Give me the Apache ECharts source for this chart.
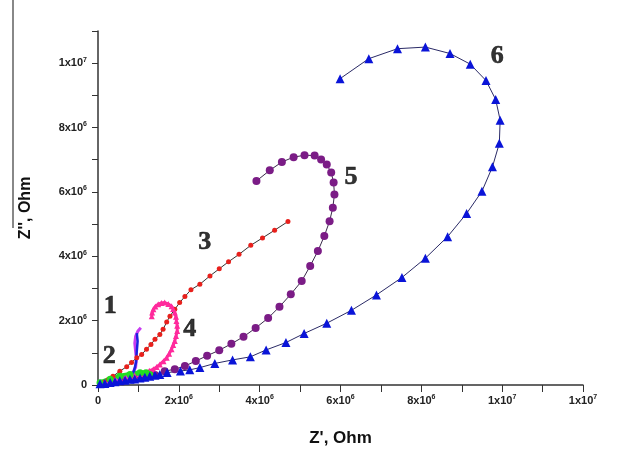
<!DOCTYPE html>
<html>
<head>
<meta charset="utf-8">
<script src="https://cdn.jsdelivr.net/npm/echarts@6/dist/echarts.min.js"></script>
<style>
  html, body { margin: 0; padding: 0; background: #fff; }
  #chart { width: 619px; height: 452px; }
</style>
</head>
<body>
<div id="chart"></div>
<script>
// values, in 10^6 Ohm  [Z', Z'']
var curve1 = [[0.17,0.08],[0.42,0.15],[0.67,0.22],[0.84,0.33],[0.93,0.55],[0.95,0.80],[0.93,1.05],[0.91,1.30],[0.93,1.51],[0.99,1.68],[1.06,1.78]];
var curve1b = [[0.79,0.24],[0.89,0.43],[0.94,0.70],[0.96,1.05],[0.98,1.36],[0.96,1.61]];
var curve2 = [[0.05,0.07],[0.30,0.18],[0.54,0.27],[0.79,0.33],[1.04,0.38],[1.19,0.38],[1.28,0.33]];
var curve3 = [[0.12,0.08],[0.25,0.16],[0.37,0.27],[0.54,0.43],[0.71,0.57],[0.83,0.70],[0.96,0.85],[1.08,0.95],[1.20,1.11],[1.31,1.26],[1.41,1.42],[1.53,1.57],[1.61,1.73],[1.70,1.96],[1.78,2.14],[1.90,2.35],[2.02,2.56],[2.15,2.75],[2.30,2.96],[2.52,3.13],[2.77,3.39],[3.00,3.61],[3.23,3.83],[3.49,4.06],[3.78,4.34],[4.07,4.57],[4.37,4.81],[4.70,5.08]];
var curve4 = [[0.17,0.08],[0.30,0.12],[0.42,0.16],[0.55,0.19],[0.67,0.22],[0.79,0.26],[0.91,0.29],[1.04,0.34],[1.16,0.39],[1.27,0.44],[1.37,0.49],[1.45,0.56],[1.53,0.64],[1.62,0.74],[1.70,0.85],[1.76,0.97],[1.82,1.11],[1.86,1.24],[1.90,1.37],[1.93,1.52],[1.96,1.68],[1.96,1.84],[1.94,1.99],[1.93,2.12],[1.90,2.25],[1.86,2.36],[1.82,2.45],[1.74,2.52],[1.65,2.56],[1.57,2.55],[1.49,2.51],[1.42,2.44],[1.37,2.35],[1.34,2.25],[1.33,2.14]];
var curve5 = [[0.60,0.12],[0.90,0.18],[1.16,0.24],[1.41,0.31],[1.65,0.43],[1.90,0.49],[2.15,0.59],[2.42,0.745],[2.70,0.91],[3.00,1.08],[3.30,1.28],[3.60,1.50],[3.90,1.77],[4.21,2.08],[4.49,2.43],[4.77,2.82],[5.04,3.23],[5.25,3.70],[5.44,4.16],[5.60,4.63],[5.73,5.09],[5.81,5.51],[5.85,5.92],[5.83,6.29],[5.77,6.60],[5.66,6.85],[5.52,7.01],[5.36,7.13],[5.11,7.14],[4.84,7.08],[4.55,6.93],[4.25,6.67],[3.92,6.34]];
var curve6 = [[0.05,0.04],[0.17,0.05],[0.30,0.08],[0.42,0.10],[0.54,0.13],[0.67,0.15],[0.79,0.18],[0.91,0.19],[1.04,0.22],[1.16,0.24],[1.28,0.27],[1.41,0.30],[1.53,0.33],[1.71,0.385],[2.04,0.435],[2.27,0.47],[2.52,0.54],[2.89,0.67],[3.33,0.78],[3.77,0.875],[4.16,1.09],[4.65,1.32],[5.10,1.60],[5.66,1.92],[6.27,2.32],[6.89,2.80],[7.52,3.34],[8.10,3.94],[8.65,4.61],[9.12,5.33],[9.50,6.02],[9.76,6.78],[9.93,7.51],[9.95,8.23],[9.84,8.87],[9.60,9.46],[9.21,9.97],[8.71,10.30],[8.10,10.50],[7.41,10.45],[6.70,10.14],[5.99,9.52]];

var curveNames = ['1','2','3','4','5','6'];
var namePos = [[0.30,2.45],[0.28,0.88],[2.64,4.42],[2.27,1.73],[6.26,6.46],[9.88,10.22]];

// tick labels: mantissa + exponent (exponent drawn as superscript)
var xTickLabels = [['0',''],['2x10','6'],['4x10','6'],['6x10','6'],['8x10','6'],['1x10','7'],['1x10','7']];
var yTickLabels = [['0',''],['2x10','6'],['4x10','6'],['6x10','6'],['8x10','6'],['1x10','7']];

function mega(arr) {
    return arr.map(function (p) { return [p[0] * 1e6, p[1] * 1e6]; });
}

function tickText(lab) {
    return lab[1] ? '{m|' + lab[0] + '}{s|' + lab[1] + '}' : '{m|' + lab[0] + '}';
}

function lineSeries(name, data, sym, size, color, lineColor, lineWidth) {
    return {
        name: name, type: 'line', data: mega(data),
        symbol: sym, symbolSize: size, showSymbol: sym !== 'none',
        itemStyle: { color: color },
        lineStyle: { color: lineColor, width: lineWidth },
        animation: false, z: 2
    };
}

var chart = echarts.init(document.getElementById('chart'));

var tickRich = {
    m: { fontFamily: 'Liberation Sans', fontWeight: 'bold', fontSize: 11, color: '#222', lineHeight: 14 },
    s: { fontFamily: 'Liberation Sans', fontWeight: 'bold', fontSize: 7, color: '#222', lineHeight: 8, verticalAlign: 'top' }
};

var option = {
    backgroundColor: '#fff',
    animation: false,
    grid: { left: 98, right: 36, top: 31, bottom: 66 },
    xAxis: {
        type: 'value', min: 0, max: 12e6, interval: 1e6,
        name: "Z', Ohm", nameLocation: 'middle', nameGap: 45,
        nameTextStyle: { fontFamily: 'Liberation Sans', fontWeight: 'bold', fontSize: 17, color: '#111' },
        axisLine: { lineStyle: { color: '#333', width: 1.5 } },
        axisTick: { length: 7, lineStyle: { color: '#333' } },
        splitLine: { show: false },
        axisLabel: { margin: 9, rich: tickRich, formatter: function (v) {
            return (v % 2e6 === 0) ? tickText(xTickLabels[v / 2e6]) : '';
        } }
    },
    yAxis: {
        type: 'value', min: 0, max: 11e6, interval: 1e6,
        name: "Z'', Ohm", nameLocation: 'middle', nameGap: 64,
        nameTextStyle: { fontFamily: 'Liberation Sans', fontWeight: 'bold', fontSize: 16, color: '#111' },
        axisLine: { show: true, lineStyle: { color: '#333', width: 1.5 } },
        axisTick: { show: true, length: 6, lineStyle: { color: '#333' } },
        splitLine: { show: false },
        axisLabel: { margin: 11, rich: tickRich, formatter: function (v) {
            return (v % 2e6 === 0) ? tickText(yTickLabels[v / 2e6]) : '';
        } }
    },
    graphic: [
        { type: 'line', shape: { x1: 13, y1: 0, x2: 13, y2: 228 }, style: { stroke: '#888', lineWidth: 2 } }
    ],
    series: [
        lineSeries('5', curve5, 'circle', 8, '#7b1c86', '#3a2a4a', 1),
        lineSeries('3', curve3, 'circle', 5, '#e8201c', '#333', 1),
        lineSeries('4', curve4, 'triangle', 6, '#ff2a9c', '#ff2a9c', 3),
        lineSeries('2', curve2, 'circle', 7, '#22dd22', '#22dd22', 5),
        lineSeries('6', curve6, 'triangle', 9, '#0a14d8', '#2a2a66', 1),
        lineSeries('1', curve1, 'none', 0, '#c83cf0', '#c83cf0', 3),
        lineSeries('1b', curve1b, 'none', 0, '#1a22e0', '#1a22e0', 2.5),
        {
            type: 'scatter', symbolSize: 0, animation: false, z: 5,
            data: namePos.map(function (p, i) { return { value: [p[0] * 1e6, p[1] * 1e6], name: curveNames[i] }; }),
            label: {
                show: true, position: 'inside', formatter: '{b}',
                fontFamily: 'Liberation Serif', fontWeight: 'bold', fontSize: 26, color: '#000',
                textBorderColor: '#000', textBorderWidth: 0.6
            }
        }
    ]
};

chart.setOption(option);
</script>
</body>
</html>
